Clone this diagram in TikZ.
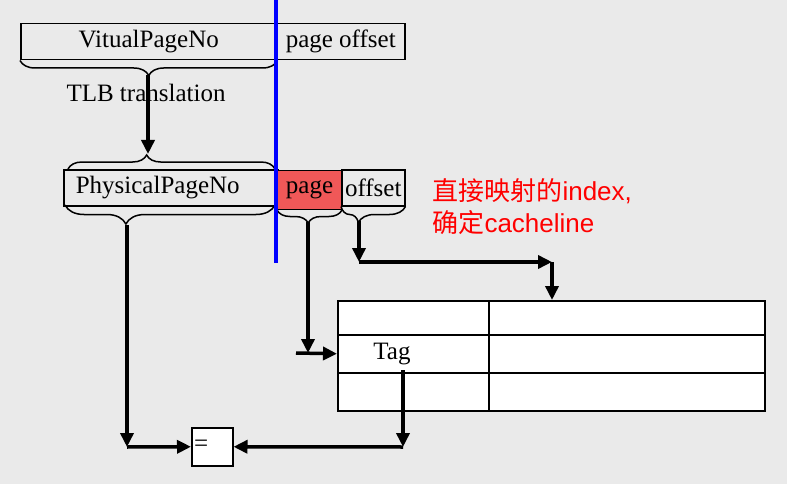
\documentclass[tikz,border=0pt]{standalone}
\usepackage{fontspec}
\setmainfont{Liberation Serif}
\newfontfamily\cjkfont{Noto Sans CJK SC}
\newfontfamily\latinsans{Liberation Sans}
\usetikzlibrary{arrows.meta,decorations.pathreplacing}
\definecolor{bg}{RGB}{234,234,234}
\definecolor{pagered}{RGB}{240,88,88}
\begin{document}
\begin{tikzpicture}[x=1pt,y=-1pt,
  box/.style={draw, line width=1.5pt, minimum height=36pt, inner sep=0pt, anchor=north west, font=\fontsize{25}{30}\selectfont},
  cell/.style={draw, fill=white, line width=1.5pt, inner sep=0pt, anchor=north west},
  arr/.style={line width=3.5pt, -{Triangle[length=14pt,width=13pt]}},
  brc/.style={decorate, line width=1.5pt},
  lbl/.style={font=\fontsize{25}{30}\selectfont, inner sep=0pt}]
\fill[bg] (0,0) rectangle (787,484);
\useasboundingbox (0,0) rectangle (787,484);

% top address
\node[box, minimum width=256pt] (vpn) at (20,23) {VitualPageNo};
\node[box, minimum width=128pt] (voff) at (276,23) {page offset};
\draw[brc, decoration={brace, amplitude=15pt, aspect=0.5}] (vpn.south east) -- (vpn.south west);
\coordinate (t1) at (148,75);
\node[lbl] (tlb) at (146,93) {TLB translation};

% physical address
\node[box, minimum width=214pt] (ppn) at (63,169) {PhysicalPageNo\kern26pt};
\node[box, minimum width=64pt, minimum height=39pt, fill=pagered, line width=1pt] (pg) at (277,170) {page};
\node[box, minimum width=63pt] (poff) at (341,169) {offset};
\draw[brc, decoration={brace, amplitude=14pt, aspect=0.38}] (68,169) -- (275,169);
\coordinate (t2) at (148,154);
\draw[brc, decoration={brace, amplitude=19pt, aspect=0.71}] (275,205) -- (65,205);
\coordinate (tppn) at (127,225);
\draw[brc, decoration={brace, amplitude=13pt, aspect=0.52}] (pg.south east) -- (pg.south west);
\coordinate (tpg) at (308,222);
\draw[brc, decoration={brace, amplitude=16pt, aspect=0.73}] (poff.south east) -- (poff.south west);
\coordinate (toff) at (359,221);

% blue split line
\coordinate (b1) at (276,0);
\coordinate (b2) at (276,263);
\draw[blue, line width=3.5pt] (b1) -- (b2);

% note
\node[anchor=north west, align=left, text=red, font=\fontsize{26}{32}\selectfont] (note) at (429,175)
  {{\cjkfont 直接映射的}{\latinsans index,}\\{\cjkfont 确定}{\latinsans cacheline}};

% cache table
\node[cell, minimum width=151pt, minimum height=34pt] (r1a) at (337,300) {};
\node[cell, minimum width=276pt, minimum height=34pt] (r1b) at (488,300) {};
\node[cell, minimum width=151pt, minimum height=38pt] (r2a) at (337,334) {};
\node[cell, minimum width=276pt, minimum height=38pt] (r2b) at (488,334) {};
\node[cell, minimum width=151pt, minimum height=38pt] (r3a) at (337,372) {};
\node[cell, minimum width=276pt, minimum height=38pt] (r3b) at (488,372) {};
\node[lbl] (tag) at (392,354) {Tag};

% comparator
\node[cell, minimum width=41pt, minimum height=38pt, font=\fontsize{25}{30}\selectfont] (eq) at (191,427) {\raisebox{1pt}{=}\kern22pt};

% arrows
\draw[arr] (t1) -- (t2);
\coordinate (c1) at (359,262);
\coordinate (c2) at (552,262);
\draw[arr] (toff) -- (c1);
\draw[arr] (c1) -- (c2);
\draw[arr] (c2) -- (c2 |- r1b.north);
\coordinate (c3) at (308,353);
\coordinate (c4) at (296,353);
\draw[arr] (tpg) -- (c3);
\draw[arr] (c4) -- (r2a.west);
\coordinate (c5) at (127,447);
\draw[arr] (tppn) -- (c5);
\draw[arr] (c5) -- (eq.west);
\coordinate (c6) at (403,370);
\coordinate (c7) at (403,447);
\draw[arr] (c6) -- (c7);
\draw[arr] (c7) -- (eq.east);
\end{tikzpicture}
\end{document}
